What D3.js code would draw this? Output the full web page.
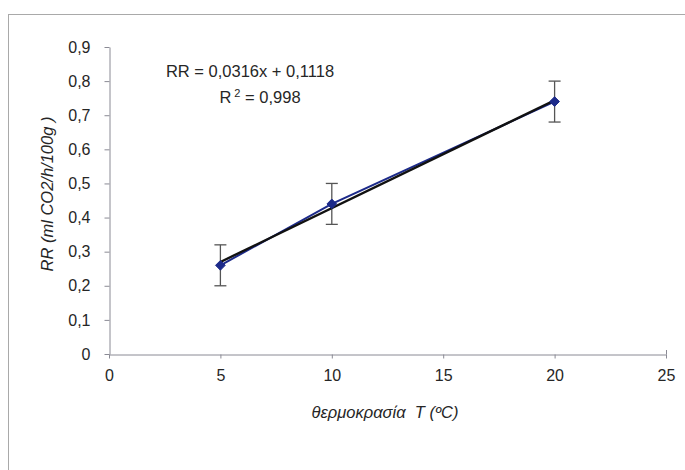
<!DOCTYPE html>
<html>
<head>
<meta charset="utf-8">
<script src="https://cdn.jsdelivr.net/npm/d3@7"></script>
<style>
  html, body { margin: 0; padding: 0; background: #fff; }
  svg { display: block; }
  text { font-family: Arial, "Liberation Sans", sans-serif; }
</style>
</head>
<body>
<svg id="chart" width="685" height="470"></svg>
<script>
// Respiration rate vs storage temperature
const temperatures = [5, 10, 20];
const rrValues = [0.26, 0.44, 0.74];
const rrErrors = [0.06, 0.06, 0.06];
const xTicks = [0, 5, 10, 15, 20, 25];
const yTicks = [0, 0.1, 0.2, 0.3, 0.4, 0.5, 0.6, 0.7, 0.8, 0.9];
const fitSlope = 0.0316;
const fitIntercept = 0.1118;
const fitR2 = 0.998;

const svg = d3.select("#chart");
const comma = v => String(v).replace(".", ",");
const textColor = "#262626";

// outer chart frame
svg.append("rect")
  .attr("x", 8.5).attr("y", 14.5)
  .attr("width", 700).attr("height", 480)
  .attr("fill", "#fff").attr("stroke", "#a9a9a9").attr("stroke-width", 1);

const x = d3.scaleLinear().domain([0, 25]).range([109, 666]);
const y = d3.scaleLinear().domain([0, 0.9]).range([354, 47]);

const axisColor = "#8a8a94";

// x axis
const gx = svg.append("g").attr("transform", "translate(0,354.5)")
  .call(d3.axisBottom(x).tickValues(xTicks).tickSize(4).tickSizeOuter(0).tickPadding(11)
    .tickFormat(d3.format("d")));
gx.select(".domain").attr("stroke", axisColor);
gx.selectAll(".tick line").attr("stroke", axisColor);
gx.selectAll(".tick text").attr("font-size", 16).attr("fill", textColor)
  .attr("font-family", "Arial, 'Liberation Sans', sans-serif");
// small upward end tick at the right of the x axis
svg.append("line").attr("x1", x(25) + 0.5).attr("x2", x(25) + 0.5)
  .attr("y1", 350).attr("y2", 354.5).attr("stroke", axisColor);

// y axis
const gy = svg.append("g").attr("transform", "translate(109.5,0)")
  .call(d3.axisLeft(y).tickValues(yTicks).tickSize(5).tickSizeOuter(0).tickPadding(14)
    .tickFormat(d => d === 0 ? "0" : comma(d3.format(".1f")(d))));
gy.select(".domain").attr("stroke", axisColor);
gy.selectAll(".tick line").attr("stroke", axisColor);
gy.selectAll(".tick text").attr("font-size", 16).attr("fill", textColor)
  .attr("font-family", "Arial, 'Liberation Sans', sans-serif");

// axis titles
svg.append("text")
  .attr("x", 385).attr("y", 418)
  .attr("text-anchor", "middle")
  .attr("font-size", 16.5).attr("font-style", "italic").attr("fill", textColor)
  .attr("xml:space", "preserve")
  .text("θερμοκρασία  T (ºC)");

svg.append("text")
  .attr("transform", "translate(53,194) rotate(-90)")
  .attr("text-anchor", "middle")
  .attr("font-size", 16.5).attr("font-style", "italic").attr("fill", textColor)
  .text("RR (ml CO2/h/100g )");

// error bars
const capHalf = 6;
const eb = svg.append("g").attr("stroke", "#555").attr("stroke-width", 1.3);
temperatures.forEach((t, i) => {
  const cx = x(t);
  const top = y(rrValues[i] + rrErrors[i]);
  const bot = y(rrValues[i] - rrErrors[i]);
  eb.append("line").attr("x1", cx).attr("x2", cx).attr("y1", top).attr("y2", bot);
  eb.append("line").attr("x1", cx - capHalf).attr("x2", cx + capHalf).attr("y1", top).attr("y2", top);
  eb.append("line").attr("x1", cx - capHalf).attr("x2", cx + capHalf).attr("y1", bot).attr("y2", bot);
});

// data series line
const pts = temperatures.map((t, i) => [t, rrValues[i]]);
svg.append("path")
  .attr("d", d3.line().x(d => x(d[0])).y(d => y(d[1]))(pts))
  .attr("fill", "none").attr("stroke", "#1c2a8a").attr("stroke-width", 2);

// linear trend line
const tMin = d3.min(temperatures), tMax = d3.max(temperatures);
svg.append("line")
  .attr("x1", x(tMin)).attr("y1", y(fitSlope * tMin + fitIntercept))
  .attr("x2", x(tMax)).attr("y2", y(fitSlope * tMax + fitIntercept))
  .attr("stroke", "#111").attr("stroke-width", 2.4);

// diamond markers
svg.append("g").selectAll("path")
  .data(pts).join("path")
  .attr("transform", d => `translate(${x(d[0])},${y(d[1])})`)
  .attr("d", d3.symbol(d3.symbolDiamond2, 60)())
  .attr("fill", "#1c2a8a").attr("stroke", "#1c2a8a");

// regression equation
svg.append("text")
  .attr("x", 250).attr("y", 77)
  .attr("text-anchor", "middle")
  .attr("font-size", 16.5).attr("fill", textColor)
  .text(`RR = ${comma(fitSlope)}x + ${comma(fitIntercept)}`);

const r2 = svg.append("text")
  .attr("x", 260).attr("y", 103)
  .attr("text-anchor", "middle")
  .attr("font-size", 16.5).attr("fill", textColor);
r2.append("tspan").text("R");
r2.append("tspan").attr("dy", -6).attr("font-size", 11).text(" 2");
r2.append("tspan").attr("dy", 6).text(` = ${comma(fitR2)}`);
</script>
</body>
</html>
